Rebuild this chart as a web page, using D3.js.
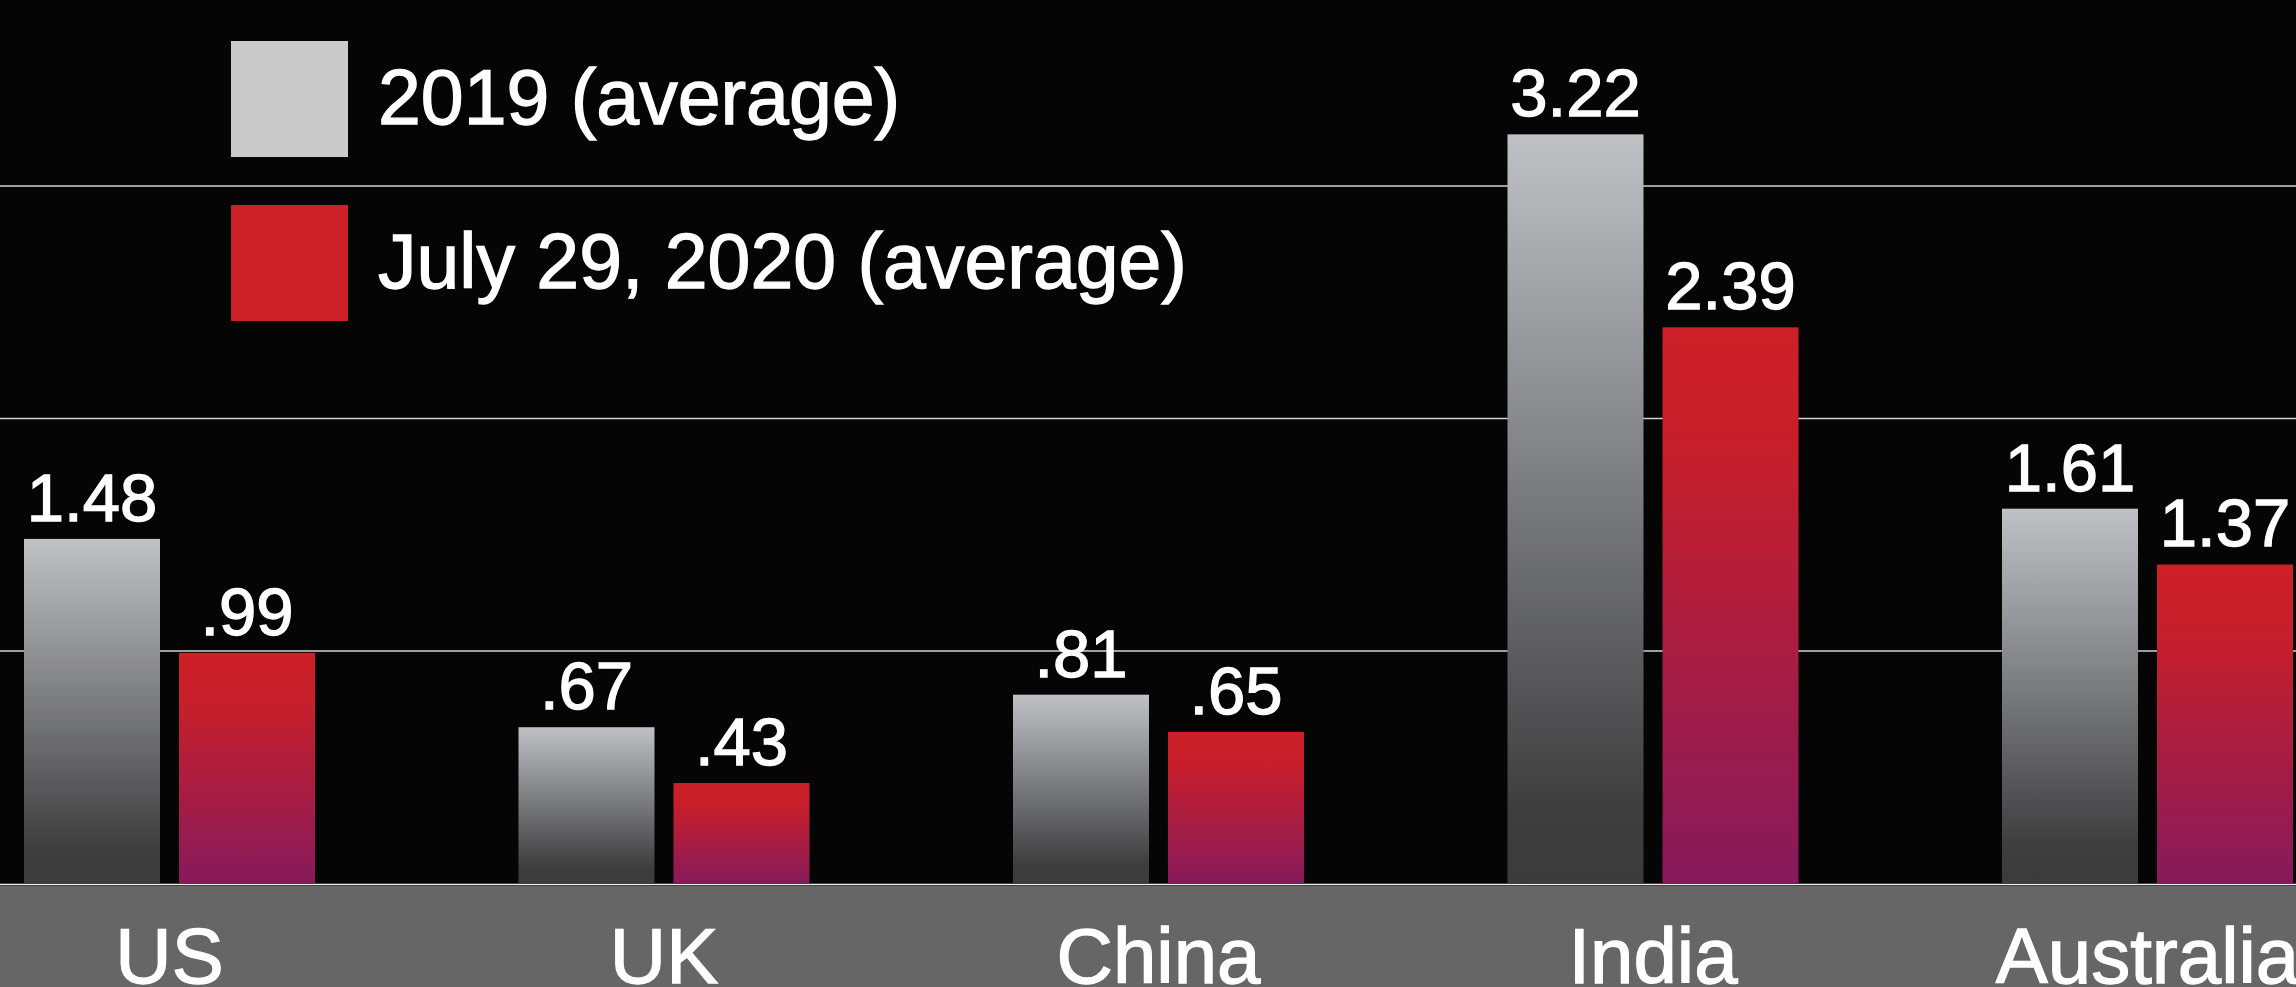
<!DOCTYPE html>
<html>
<head>
<meta charset="utf-8">
<script src="https://cdn.jsdelivr.net/npm/d3@7"></script>
<style>
  html, body { margin: 0; padding: 0; background: #050505; overflow: hidden; }
  svg { display: block; }
  text { font-family: "Liberation Sans", Arial, sans-serif; fill: #ffffff; stroke: #ffffff; stroke-width: 1.3px; paint-order: stroke; }
</style>
</head>
<body>
<svg id="chart" width="2296" height="987"></svg>
<script>
// ---- data ----
const categories = ["US", "UK", "China", "India", "Australia"];
const seriesNames = ["2019 (average)", "July 29, 2020 (average)"];
const values2019 = [1.48, 0.67, 0.81, 3.22, 1.61];
const values2020 = [0.99, 0.43, 0.65, 2.39, 1.37];
const gridTicks = [1, 2, 3];

// ---- layout ----
const W = 2296, H = 987;
const baseY = 883;
const svg = d3.select("#chart");

const defs = svg.append("defs");
const gGray = defs.append("linearGradient").attr("id", "gradGray")
  .attr("x1", 0).attr("y1", 0).attr("x2", 0).attr("y2", 1);
gGray.append("stop").attr("offset", "0").attr("stop-color", "#c0c1c5");
gGray.append("stop").attr("offset", "0.9").attr("stop-color", "#3e3e3f");
gGray.append("stop").attr("offset", "1").attr("stop-color", "#3b3b3b");
const gRed = defs.append("linearGradient").attr("id", "gradRed")
  .attr("x1", 0).attr("y1", 0).attr("x2", 0).attr("y2", 1);
gRed.append("stop").attr("offset", "0").attr("stop-color", "#cc1f27");
gRed.append("stop").attr("offset", "0.22").attr("stop-color", "#c71f2b");
gRed.append("stop").attr("offset", "1").attr("stop-color", "#871a5b");

const fills = ["url(#gradGray)", "url(#gradRed)"];
const legendFills = ["#cacaca", "#cc1f27"];

svg.append("rect").attr("x", 0).attr("y", 0).attr("width", W).attr("height", H).attr("fill", "#050505");

const x0 = d3.scaleBand().domain(categories).range([24, 2293]).paddingInner(0.4115).paddingOuter(0);
const x1 = d3.scaleBand().domain(seriesNames).range([0, x0.bandwidth()]).paddingInner(0.1226).paddingOuter(0);
const y = d3.scaleLinear().domain([0, 3.8]).range([baseY, baseY - 3.8 * 232.5]);

// gridlines
const grid = svg.append("g").attr("class", "grid")
  .call(d3.axisLeft(y).tickValues(gridTicks).tickSize(-W).tickFormat(""));
grid.select(".domain").remove();
grid.selectAll(".tick line").attr("stroke", "#d2d2d2").attr("stroke-width", 1.4)
  .attr("x1", 0).attr("x2", W);

// bottom band
svg.append("rect").attr("x", 0).attr("y", 886).attr("width", W).attr("height", H - 886).attr("fill", "#666667");
svg.append("line").attr("x1", 0).attr("x2", W).attr("y1", 884.6).attr("y2", 884.6)
  .attr("stroke", "#f0f0f0").attr("stroke-width", 1.5);

// bars
const rows = categories.map((c, i) => ({ cat: c, vals: [values2019[i], values2020[i]] }));
const fmt = v => d3.format(".2f")(v).replace(/^0\./, ".");

const groups = svg.append("g").selectAll("g").data(rows).join("g")
  .attr("transform", d => `translate(${x0(d.cat)},0)`);

groups.selectAll("rect").data(d => d.vals.map((v, j) => ({ v, j })))
  .join("rect")
  .attr("x", d => x1(seriesNames[d.j]))
  .attr("y", d => y(d.v))
  .attr("width", x1.bandwidth())
  .attr("height", d => y(0) - y(d.v))
  .attr("fill", d => fills[d.j]);

groups.selectAll("text.val").data(d => d.vals.map((v, j) => ({ v, j })))
  .join("text").attr("class", "val")
  .attr("x", d => x1(seriesNames[d.j]) + x1.bandwidth() / 2)
  .attr("y", d => y(d.v) - 18)
  .attr("text-anchor", "middle")
  .attr("font-size", 67)
  .text(d => fmt(d.v));

// category axis labels
const xAxis = svg.append("g").attr("transform", `translate(0,${baseY})`)
  .call(d3.axisBottom(x0).tickSize(0).tickPadding(0));
xAxis.select(".domain").remove();
xAxis.selectAll(".tick text")
  .attr("y", 100).attr("dy", 0)
  .attr("font-size", 78)
  .attr("font-family", "'Liberation Sans', Arial, sans-serif")
  .attr("fill", "#ffffff")
  .attr("stroke", "#ffffff").attr("stroke-width", 1.6);

// legend
const legend = svg.append("g").selectAll("g").data(seriesNames).join("g")
  .attr("transform", (d, i) => `translate(231,${41 + i * 164})`);
legend.append("rect").attr("x", 0).attr("y", 0).attr("width", 117).attr("height", 116)
  .attr("fill", (d, i) => legendFills[i]);
legend.append("text").attr("x", 147).attr("y", 83).attr("font-size", 77).text(d => d);
</script>
</body>
</html>
